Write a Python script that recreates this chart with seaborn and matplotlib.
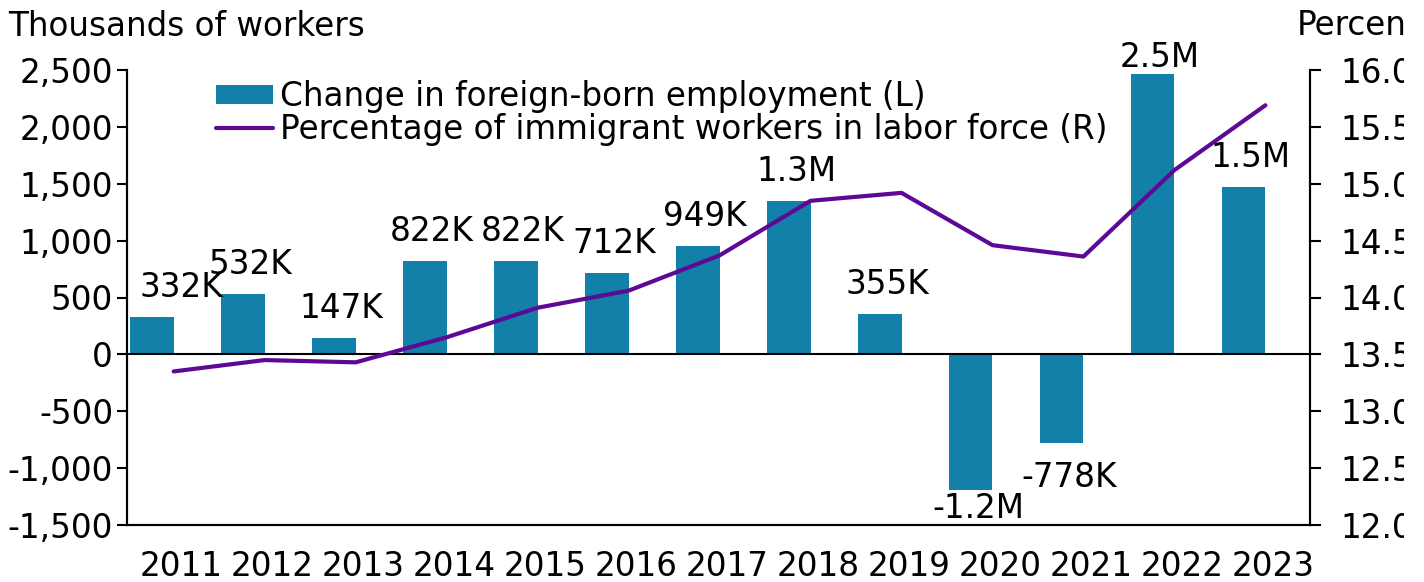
import matplotlib
matplotlib.use("Agg")
import matplotlib.pyplot as plt
import matplotlib.ticker as mticker
from matplotlib.transforms import Bbox, TransformedBbox
import numpy as np
import seaborn as sns

# --- data
years = ["2011", "2012", "2013", "2014", "2015", "2016", "2017",
         "2018", "2019", "2020", "2021", "2022", "2023"]
emp_change = [332, 532, 147, 822, 822, 712, 949, 1346, 355, -1192, -778, 2462, 1472]  # thousands
bar_labels = ["332K", "532K", "147K", "822K", "822K", "712K", "949K",
              "1.3M", "355K", "-1.2M", "-778K", "2.5M", "1.5M"]
immig_pct = [13.35, 13.45, 13.43, 13.65, 13.91, 14.06, 14.37,
             14.85, 14.92, 14.46, 14.36, 15.12, 15.69]

bar_color = "#1380A9"
line_color = "#5C0A96"
fs = 23.5

sns.set_style("ticks")
plt.rcParams["font.family"] = ["DejaVu Sans"]
plt.rcParams["axes.unicode_minus"] = False
plt.rcParams["text.color"] = "black"
plt.rcParams["xtick.color"] = "black"
plt.rcParams["ytick.color"] = "black"
plt.rcParams["xtick.labelcolor"] = "black"
plt.rcParams["ytick.labelcolor"] = "black"

fig = plt.figure(figsize=(14.24, 5.82), dpi=100)
ax = fig.add_axes([127 / 1424, 1 - 525 / 582, 1183 / 1424, 455 / 582])

pos = np.arange(len(years))
sns.barplot(x=pos, y=emp_change, native_scale=True, width=0.48, color=bar_color,
            saturation=1, linewidth=0, errorbar=None, ax=ax,
            label="Change in foreign-born employment (L)")
ax.axhline(0, color="black", lw=1.5, zorder=3)

ax2 = ax.twinx()
sns.lineplot(x=pos + 0.24, y=immig_pct, color=line_color, lw=3, ax=ax2,
             label="Percentage of immigrant workers in labor force (R)")

ax.set_xlim(-0.273, 12.73)
ax.set_ylim(-1500, 2500)
ax.set_yticks(np.arange(-1500, 2501, 500))
ax.yaxis.set_major_formatter(mticker.FuncFormatter(lambda v, p: f"{v:,.0f}"))
ax2.set_ylim(12.0, 16.0)
ax2.set_yticks(np.arange(12.0, 16.01, 0.5))
ax2.yaxis.set_major_formatter(mticker.FormatStrFormatter("%.1f"))

ax.set_xticks(pos + 0.32)
ax.set_xticklabels(years)
ax.tick_params(axis="x", length=0, pad=18, labelsize=fs)
ax.tick_params(axis="y", length=7, width=1.5, pad=3, labelsize=fs)
ax2.tick_params(axis="y", length=8, width=1.5, pad=14, labelsize=fs)
ax.set_xlabel("")
ax.set_ylabel("")
ax2.set_ylabel("")

for a in (ax, ax2):
    a.spines["top"].set_visible(False)
    for s in ("left", "right", "bottom"):
        a.spines[s].set_linewidth(1.5)
        a.spines[s].set_color("black")

# bar value labels
for i, (v, lab) in enumerate(zip(emp_change, bar_labels)):
    dx = 0.08
    if i == 0:
        dx = 0.32
    if v >= 0:
        dy, va = 14.4, "baseline"
        if v > 2300:
            dy = 5.5
    else:
        dy, va = -13, "top"
        if v < -1100:
            dy = -1.5
    ax.annotate(lab, xy=(i + dx, v), xytext=(0, dy), textcoords="offset points",
                ha="center", va=va, fontsize=fs, color="black", zorder=5)

h1, l1 = ax.get_legend_handles_labels()
h2, l2 = ax2.get_legend_handles_labels()
if ax2.get_legend():
    ax2.get_legend().remove()
if ax.get_legend():
    ax.get_legend().remove()
ax2.legend(h1 + h2, l1 + l2, loc="upper left", bbox_to_anchor=(216 / 1424, 1 - 80 / 582),
           bbox_transform=fig.transFigure, frameon=False, fontsize=fs,
           handlelength=1.75, handleheight=0.52, handletextpad=0.22, labelspacing=0.0,
           borderaxespad=0, borderpad=0)

fig.text(8 / 1424, 1 - 26 / 582, "Thousands of workers", fontsize=fs, va="center", ha="left")
right_title = fig.text(1297 / 1424, 1 - 26 / 582, "Percentage", fontsize=fs, va="center", ha="left")

# the original is cut off a little before the right edge
fig.canvas.draw()
clip = TransformedBbox(Bbox([[0, 0], [1404 / 1424, 1]]), fig.transFigure)
for t in [right_title] + ax2.yaxis.get_majorticklabels():
    t.set_clip_box(clip)
    t.set_clip_on(True)

fig.savefig("out.png", dpi=100)
